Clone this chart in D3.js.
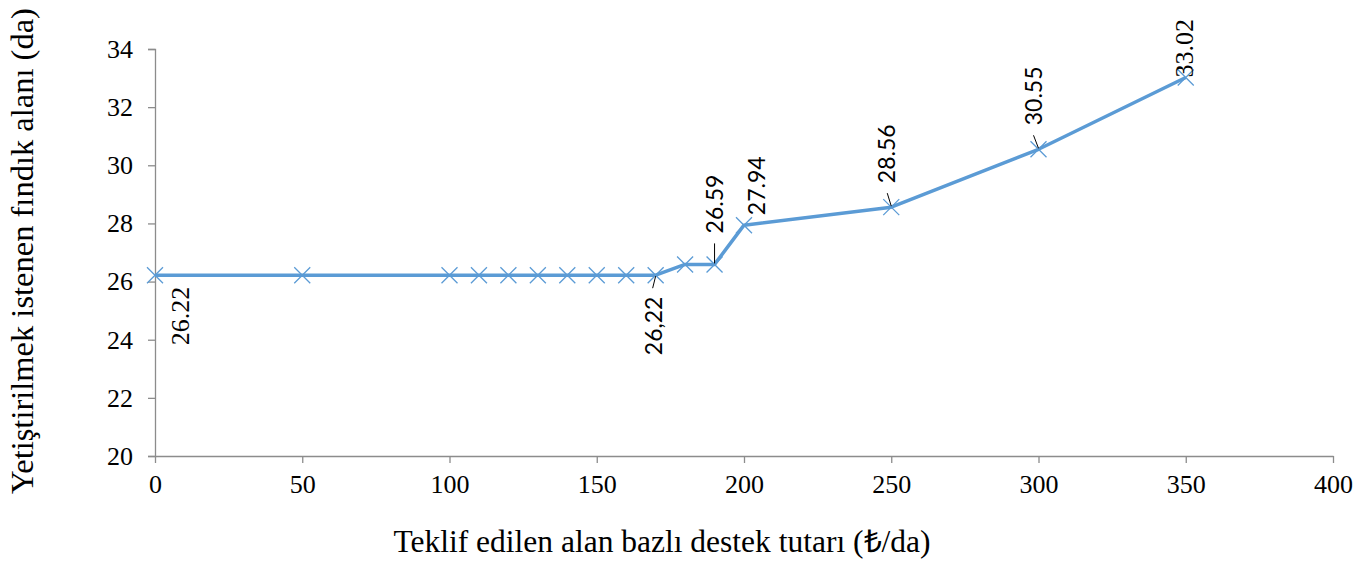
<!DOCTYPE html>
<html>
<head>
<meta charset="utf-8">
<script src="https://cdn.jsdelivr.net/npm/d3@7"></script>
<style>
  body { margin: 0; background: #fff; }
</style>
</head>
<body>
<div id="chart"></div>
<script>
// DATA
const supportAmounts = [0, 50, 100, 110, 120, 130, 140, 150, 160, 170, 180, 190, 200, 250, 300, 350];
const areaValues = [26.22, 26.22, 26.22, 26.22, 26.22, 26.22, 26.22, 26.22, 26.22, 26.22, 26.59, 26.59, 27.94, 28.56, 30.55, 33.02];
const labelIndex = [0, 9, 11, 12, 13, 14, 15];
const labelText = ["26.22", "26,22", "26.59", "27.94", "28.56", "30.55", "33.02"];
const xTicks = [0, 50, 100, 150, 200, 250, 300, 350, 400];
const yTicks = [20, 22, 24, 26, 28, 30, 32, 34];
const xTitle = "Teklif edilen alan bazlı destek tutarı (₺/da)";
const yTitle = "Yetiştirilmek istenen fındık alanı (da)";

// label layout (offset from point, font, leader line)
const labelLayout = [
    {dx: 25, dy: 70, serif: true, leader: false},
    {dx: -2, dy: 80, serif: false, leader: true},
    {dx: 0, dy: -31, serif: false, leader: true},
    {dx: 13, dy: -10, serif: false, leader: false},
    {dx: -4, dy: -24, serif: false, leader: true},
    {dx: -5, dy: -24, serif: false, leader: true},
    {dx: -2, dy: 0, serif: true, leader: false}
];

const width = 1371;
const height = 562;
const serif = '"Liberation Serif", "Times New Roman", Times, serif';
const sans = 'Lato, "Liberation Sans", sans-serif';
const axisColor = "#8c8c8c";
const lineColor = "#5b9bd5";

const svg = d3.select("#chart")
    .append("svg")
        .attr("width", width)
        .attr("height", height)
        .style("font-family", serif);

const x = d3.scaleLinear().domain([0, 400]).range([155, 1333]);
const y = d3.scaleLinear().domain([20, 34]).range([456, 49]);

// y axis
const yAxis = svg.append("g")
    .attr("transform", "translate(155,0)")
    .call(d3.axisLeft(y).tickValues(yTicks).tickSize(7).tickPadding(15).tickSizeOuter(7));
yAxis.attr("font-family", null).attr("font-size", null);
yAxis.selectAll("path, line").attr("stroke", axisColor).attr("stroke-width", 1.3);
yAxis.selectAll("text")
    .style("font-family", serif)
    .style("font-size", "26px")
    .attr("fill", "#000");

// x axis
const xAxis = svg.append("g")
    .attr("transform", "translate(0,456)")
    .call(d3.axisBottom(x).tickValues(xTicks).tickSize(7).tickPadding(12).tickSizeOuter(0));
xAxis.attr("font-family", null).attr("font-size", null);
xAxis.selectAll("path, line").attr("stroke", axisColor).attr("stroke-width", 1.3);
xAxis.selectAll("text")
    .style("font-family", serif)
    .style("font-size", "26px")
    .attr("fill", "#000");

// line
const points = supportAmounts.map((v, i) => [v, areaValues[i]]);
const line = d3.line()
    .x(d => x(d[0]))
    .y(d => y(d[1]));

svg.append("path")
    .datum(points)
    .attr("d", line)
    .attr("fill", "none")
    .attr("stroke", lineColor)
    .attr("stroke-width", 3.5)
    .attr("stroke-linejoin", "round");

// x markers
const m = 8;
svg.append("g")
    .selectAll("path")
    .data(points)
    .join("path")
        .attr("d", d => {
            const cx = x(d[0]), cy = y(d[1]);
            return `M${cx - m},${cy - m}L${cx + m},${cy + m}M${cx - m},${cy + m}L${cx + m},${cy - m}`;
        })
        .attr("stroke", lineColor)
        .attr("stroke-width", 1.3)
        .attr("fill", "none");

// data labels
labelIndex.forEach((idx, k) => {
    const px = x(supportAmounts[idx]);
    const py = y(areaValues[idx]);
    const lay = labelLayout[k];
    const lx = px + lay.dx;
    const ly = py + lay.dy;

    if (lay.leader) {
        const dir = lay.dy > 0 ? 1 : -1;
        svg.append("line")
            .attr("x1", px)
            .attr("y1", py + dir * 1)
            .attr("x2", lx + (lay.dy > 0 ? -1 : 0))
            .attr("y2", ly + (lay.dy > 0 ? -67 : 10))
            .attr("stroke", "#000")
            .attr("stroke-width", 1);
    }

    svg.append("text")
        .attr("transform", `translate(${lx},${ly}) rotate(-90)`)
        .attr("text-anchor", "start")
        .attr("dy", "0.35em")
        .attr("fill", "#000")
        .style("font-family", lay.serif ? serif : sans)
        .style("font-size", lay.serif ? "26px" : "23px")
        .text(labelText[k]);
});

// axis titles
svg.append("text")
    .attr("x", 662)
    .attr("y", 552)
    .attr("text-anchor", "middle")
    .attr("fill", "#000")
    .style("font-family", serif)
    .style("font-size", "31.5px")
    .text(xTitle);

svg.append("text")
    .attr("transform", "translate(33,494) rotate(-90)")
    .attr("text-anchor", "start")
    .attr("fill", "#000")
    .style("font-family", serif)
    .style("font-size", "32.5px")
    .text(yTitle);
</script>
</body>
</html>
